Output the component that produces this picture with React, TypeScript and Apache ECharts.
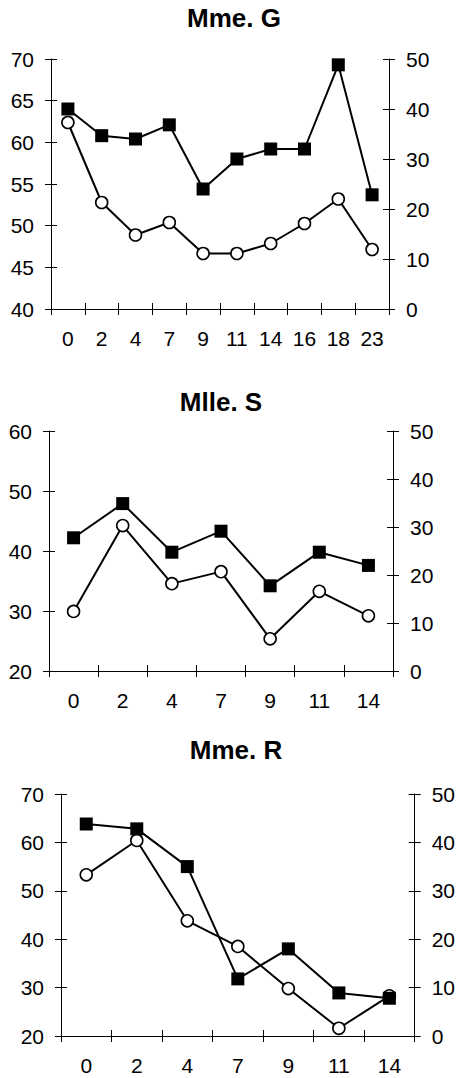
import React, { useEffect, useRef } from "react";
import * as echarts from "echarts";

// Chart 1: Mme. G
const titleG = "Mme. G";
const catsG = ["0", "2", "4", "7", "9", "11", "14", "16", "18", "23"];
const squaresG = [64.0, 60.8, 60.4, 62.1, 54.4, 58.0, 59.2, 59.2, 69.3, 53.7];
const circlesG = [37.3, 21.3, 14.8, 17.3, 11.1, 11.1, 13.1, 17.1, 22.0, 11.9];

// Chart 2: Mlle. S
const titleS = "Mlle. S";
const catsS = ["0", "2", "4", "7", "9", "11", "14"];
const squaresS = [42.2, 47.9, 39.8, 43.3, 34.2, 39.8, 37.6];
const circlesS = [12.4, 30.3, 18.2, 20.7, 6.7, 16.6, 11.5];

// Chart 3: Mme. R
const titleR = "Mme. R";
const catsR = ["0", "2", "4", "7", "9", "11", "14"];
const squaresR = [63.8, 62.8, 55.0, 31.8, 38.0, 28.9, 27.8];
const circlesR = [33.3, 40.4, 23.8, 18.5, 9.8, 1.6, 8.3];

// Axis ranges
const leftRanges = [
  { min: 40, max: 70, interval: 5 },
  { min: 20, max: 60, interval: 10 },
  { min: 20, max: 70, interval: 10 },
];
const rightRange = { min: 0, max: 50, interval: 10 };

const FONT = "'Liberation Sans', Arial, Helvetica, sans-serif";
const LABEL_SIZE = 21;
const TITLE_SIZE = 26;

export default function App() {
  const ref = useRef<HTMLDivElement>(null);

  useEffect(() => {
    if (!ref.current) return;
    const chart = echarts.init(ref.current, null, { renderer: "svg" });

    const panels = [
      { title: titleG, cats: catsG, sq: squaresG, ci: circlesG, grid: { left: 51, right: 69, top: 59, height: 250 }, titleX: 234, titleY: 18 },
      { title: titleS, cats: catsS, sq: squaresS, ci: circlesS, grid: { left: 49, right: 65, top: 431, height: 240 }, titleX: 221, titleY: 401.5 },
      { title: titleR, cats: catsR, sq: squaresR, ci: circlesR, grid: { left: 61, right: 43, top: 794, height: 242 }, titleX: 236, titleY: 750 },
    ];

    const axisLineStyle = { color: "#000", width: 1 };
    const grids: any[] = [];
    const xAxes: any[] = [];
    const yAxes: any[] = [];
    const series: any[] = [];
    const titles: any[] = [];

    panels.forEach((p, g) => {
      grids.push({ ...p.grid, containLabel: false });
      titles.push({
        text: p.title,
        left: p.titleX,
        top: p.titleY - TITLE_SIZE / 2,
        padding: 0,
        textAlign: "center",
        textStyle: { fontFamily: FONT, fontSize: TITLE_SIZE, fontWeight: "bold", color: "#000", lineHeight: TITLE_SIZE },
      });
      // x axes: main (outside ticks) + duplicate (inside ticks)
      xAxes.push({
        type: "category",
        gridIndex: g,
        position: "bottom",
        data: p.cats,
        boundaryGap: true,
        axisLine: { lineStyle: axisLineStyle },
        axisTick: { show: true, inside: false, length: 6, interval: 0, lineStyle: axisLineStyle },
        axisLabel: { interval: 0, margin: 19, color: "#000", fontSize: LABEL_SIZE, fontFamily: FONT },
        splitLine: { show: false },
      });
      xAxes.push({
        type: "category",
        gridIndex: g,
        position: "bottom",
        data: p.cats,
        boundaryGap: true,
        axisLine: { show: false },
        axisTick: { show: true, inside: true, length: 6, interval: 0, lineStyle: axisLineStyle },
        axisLabel: { show: false },
        splitLine: { show: false },
      });
      const lr = leftRanges[g];
      const mkY = (pos: string, range: any, inside: boolean, main: boolean) => ({
        type: "value",
        gridIndex: g,
        position: pos,
        min: range.min,
        max: range.max,
        interval: range.interval,
        axisLine: { show: main, lineStyle: axisLineStyle },
        axisTick: { show: true, inside, length: 6, lineStyle: axisLineStyle },
        axisLabel: main
          ? { show: true, margin: 17, color: "#000", fontSize: LABEL_SIZE, fontFamily: FONT }
          : { show: false },
        splitLine: { show: false },
      });
      yAxes.push(mkY("left", lr, false, true));
      yAxes.push(mkY("left", lr, true, false));
      yAxes.push(mkY("right", rightRange, false, true));
      yAxes.push(mkY("right", rightRange, true, false));

      series.push({
        type: "line",
        xAxisIndex: 2 * g,
        yAxisIndex: 4 * g + 2,
        data: p.ci,
        symbol: "circle",
        symbolSize: 12,
        lineStyle: { color: "#000", width: 2 },
        itemStyle: { color: "#fff", borderColor: "#000", borderWidth: 1.6 },
        z: 2,
      });
      series.push({
        type: "line",
        xAxisIndex: 2 * g,
        yAxisIndex: 4 * g,
        data: p.sq,
        symbol: "rect",
        symbolSize: 13,
        lineStyle: { color: "#000", width: 2 },
        itemStyle: { color: "#000", borderColor: "#000", borderWidth: 0 },
        z: 3,
      });
    });

    chart.setOption({
      animation: false,
      backgroundColor: "#fff",
      title: titles,
      grid: grids,
      xAxis: xAxes,
      yAxis: yAxes,
      series,
    });

    return () => chart.dispose();
  }, []);

  return (
    <div
      ref={ref}
      style={{ position: "absolute", left: 0, top: 0, width: 458, height: 1078, background: "#fff" }}
    />
  );
}
